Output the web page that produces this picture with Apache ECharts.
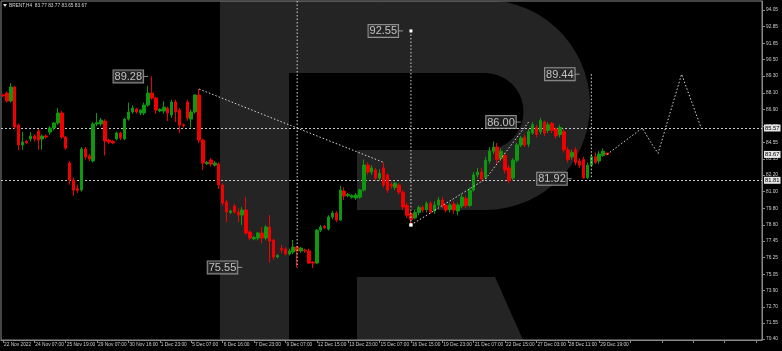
<!DOCTYPE html>
<html><head><meta charset="utf-8">
<script src="https://cdn.jsdelivr.net/npm/echarts@6/dist/echarts.min.js"></script>
<style>html,body{margin:0;padding:0;background:#000;}#c{width:782px;height:351px;}</style>
</head><body><div id="c"></div>
<script>
const dateLabels = ['22 Nov 2022','24 Nov 07:00','25 Nov 19:00','29 Nov 07:00','30 Nov 16:00','1 Dec 23:00','5 Dec 07:00','6 Dec 16:00','7 Dec 23:00','9 Dec 07:00','12 Dec 15:00','13 Dec 23:00','15 Dec 07:00','16 Dec 15:00','19 Dec 23:00','21 Dec 07:00','22 Dec 15:00','27 Dec 03:00','28 Dec 11:00','29 Dec 19:00'];
const priceTicks = [94.05,92.85,91.65,90.50,89.30,88.10,86.90,85.70,84.55,83.35,82.20,81.00,79.80,78.60,77.45,76.25,75.05,73.90,72.70,71.55,70.40];
const titleText = 'BRENT,H4  83.77 83.77 83.65 83.67';
// [open, close, low, high]
const candles = [
[87.94,87.90,87.80,88.00],[88.08,87.51,87.40,88.20],[87.51,88.51,87.40,88.80],[88.51,85.64,85.50,88.60],[85.78,84.35,83.99,85.90],
[84.35,84.56,84.00,85.28],[84.60,84.50,84.40,84.70],[84.78,84.99,84.60,85.28],[84.99,84.78,84.60,85.10],[85.35,84.70,84.00,85.50],
[84.78,84.99,84.00,85.10],[85.00,84.92,84.80,85.10],[85.28,85.57,85.10,85.70],[85.57,85.93,85.40,86.00],[85.93,86.65,85.80,87.00],
[86.65,84.92,84.80,86.80],[84.92,84.13,84.00,85.00],[83.05,81.83,81.50,83.20],[81.83,81.11,80.70,82.00],[81.20,81.10,80.90,81.50],
[81.11,84.06,81.00,84.20],[84.06,83.48,83.30,84.20],[83.56,83.34,83.20,83.70],[83.20,85.86,83.10,86.00],[85.86,85.95,85.70,86.65],
[85.86,86.14,85.70,86.30],[86.07,84.63,83.60,86.20],[84.70,84.56,84.40,84.80],[84.60,84.50,84.40,84.70],[84.78,85.21,84.70,85.30],
[85.21,84.85,84.70,85.30],[84.78,86.21,84.70,86.30],[86.21,86.72,86.10,87.40],[86.72,87.00,86.60,87.20],[86.94,86.72,86.60,87.00],
[86.65,86.86,86.50,86.90],[86.65,87.22,86.50,87.40],[87.22,88.08,87.10,88.60],[88.08,87.72,87.60,89.28],[87.72,86.86,86.60,87.80],
[86.80,86.90,86.70,87.00],[86.79,87.07,86.60,87.50],[87.00,86.65,86.07,87.10],[86.50,87.44,86.30,87.60],[87.44,86.72,86.00,87.60],
[86.86,85.78,85.20,87.00],[85.80,85.75,85.60,85.90],[87.44,86.29,86.10,87.60],[86.21,86.72,85.60,86.90],[86.72,87.94,86.60,88.00],
[87.94,84.70,84.50,88.37],[84.70,83.05,82.55,84.80],[83.00,83.10,82.90,83.20],[83.27,82.98,82.80,83.40],[82.90,83.05,82.80,83.20],
[82.98,81.47,81.20,83.10],[81.47,80.18,80.00,81.60],[80.25,79.53,78.80,80.40],[79.50,79.60,79.40,79.70],[79.96,79.53,79.40,80.10],
[79.53,79.31,78.80,79.80],[79.31,79.67,78.60,79.90],[79.67,78.02,77.90,80.60],[78.09,77.66,77.50,78.20],[77.60,77.70,77.50,77.80],
[77.66,78.02,77.50,78.10],[78.02,77.66,77.30,78.45],[77.66,78.45,77.50,78.60],[78.45,77.44,75.90,79.31],[77.52,76.29,76.10,77.60],
[76.30,76.40,76.20,76.50],[76.90,76.80,76.58,77.16],[76.87,76.51,76.40,77.00],[76.51,76.73,76.40,76.90],[76.65,77.01,76.50,77.52],
[77.01,76.73,75.55,77.10],[76.73,76.94,76.60,77.00],[76.80,76.75,76.60,76.90],[76.73,75.86,75.80,76.90],[75.93,75.86,75.50,76.00],
[75.86,78.23,75.80,78.30],[78.23,78.45,78.10,78.60],[78.50,78.40,78.30,78.60],[78.31,79.17,78.20,79.30],[79.17,79.46,79.00,79.60],
[79.46,78.95,78.80,79.60],[78.95,81.11,78.90,81.40],[81.04,80.68,80.40,81.30],[80.70,80.80,80.60,80.90],[80.60,80.70,80.50,80.80],
[80.54,80.75,80.40,80.90],[80.60,81.11,80.50,81.20],[81.11,82.91,81.00,83.30],[82.91,82.40,82.20,83.10],[82.40,82.70,82.20,82.90],
[82.55,81.97,81.80,82.70],[81.97,82.30,81.80,82.60],[82.70,81.47,81.30,83.10],[82.19,81.11,80.90,82.30],[81.50,81.40,81.20,81.70],
[81.30,81.60,81.10,81.70],[81.47,80.96,80.80,81.60],[80.96,79.90,79.70,81.10],[80.00,79.30,79.10,80.20],[79.40,79.00,78.60,79.60],
[79.10,79.50,79.00,79.70],[79.50,79.85,79.30,80.00],[79.85,79.67,79.50,80.00],[79.70,80.15,79.50,80.30],[80.15,79.53,79.40,80.30],
[79.60,80.03,79.40,80.30],[80.03,80.39,79.90,80.60],[80.39,79.96,79.80,80.60],[80.00,79.67,79.50,80.10],[79.70,80.03,79.50,80.20],
[80.10,79.67,79.40,80.30],[79.60,80.03,79.30,80.20],[79.96,80.60,79.80,80.80],[80.50,80.00,79.80,80.70],[80.00,81.10,79.90,81.30],
[81.10,82.20,81.00,82.40],[82.20,82.40,82.00,82.70],[82.40,81.90,81.70,82.70],[82.00,83.25,81.90,83.50],[83.20,83.90,83.00,84.20],
[83.90,84.20,83.70,84.60],[84.20,83.30,83.00,84.50],[83.40,83.90,83.20,84.10],[83.60,82.55,82.30,83.80],[82.70,81.80,81.60,82.90],
[81.97,83.25,81.80,83.40],[83.25,84.35,83.10,84.50],[84.35,84.85,84.20,85.00],[84.90,84.35,84.20,85.10],[84.40,85.30,84.20,85.50],
[85.20,85.80,85.10,86.00],[85.60,85.10,84.90,85.80],[85.30,86.10,85.10,86.30],[86.00,85.20,85.00,86.10],[85.40,85.80,85.20,86.00],
[85.90,85.40,85.20,86.00],[85.50,85.00,84.80,85.60],[85.10,85.60,84.90,85.80],[85.30,84.00,83.80,85.50],[84.00,83.30,83.10,84.20],
[83.50,83.80,83.30,84.00],[84.00,83.10,82.90,84.20],[83.20,82.90,82.70,83.40],[83.30,82.00,81.92,83.50],[82.00,82.90,81.90,83.10],
[82.90,83.50,82.80,83.70],[83.50,83.10,83.00,83.80],[83.20,83.70,83.00,83.90],[83.60,83.90,83.50,84.10],[83.77,83.67,83.65,83.77]
];
const slotCount = 194;
const levelLines = [85.57, 81.81];
const lastPrice = 83.67;
// analysis lines: [barIndex, price]
const trendLines = [
  [[50, 88.37], [97, 83.10]],
  [[75, 94.70], [75, 75.55]],
  [[104, 92.55], [104, 78.60]],
  [[104, 78.60], [123, 81.90], [134, 86.00]],
  [[150, 89.44], [150, 81.92]]
];
const forecastPath = [[154, 83.67], [163, 85.57], [165, 84.60], [167, 83.75], [173, 89.44], [178, 85.57]];
const priceNotes = [[37.2, 89.28, '89.28'], [101.8, 92.55, '92.55'], [60.6, 75.55, '75.55'], [132.4, 86.00, '86.00'], [147.2, 89.44, '89.44'], [144.6, 81.92, '81.92']];

const chart = echarts.init(document.getElementById('c'));
const cats = Array.from({length: slotCount}, (_, i) => String(i));
const axisGray = '#8a8a8a', txt = '#cccccc', fs = 4.8;
const lineStyleDot = {color: '#d8d8d8', width: 1, type: [1.5, 2]};

function arcPts(cx, cy, r, a0, a1, n) {
  const p = [];
  for (let k = 0; k <= n; k++) { const a = (a0 + (a1 - a0) * k / n) * Math.PI / 180; p.push([cx + r * Math.cos(a), cy + r * Math.sin(a)]); }
  return p;
}
const wm = '#242424';
const bowl = [[289, 0], [485, 0]].concat(arcPts(485, 105, 105, -90, 90, 30)).concat([[357, 210], [357, 150], [485, 150]]).concat(arcPts(485, 111.5, 38.5, 90, -90, 20)).concat([[289, 73]]);

const markLabel = {position: 'end', distance: 2, formatter: p => p.value.toFixed(2), backgroundColor: '#e6e6e6', color: '#000', fontSize: 5.8, fontFamily: 'Liberation Sans', padding: [1, 1, 0, 1]};
const series = [{
  type: 'candlestick', data: candles, barWidth: 3, z: 5,
  itemStyle: {color: '#0e980e', color0: '#f00000', borderColor: '#0e980e', borderColor0: '#f00000', borderWidth: 1},
  markLine: {
    symbol: 'none', silent: true, animation: false,
    data: levelLines.map(v => ({yAxis: v})).concat([{yAxis: lastPrice, lineStyle: {color: 'rgba(0,0,0,0)', width: 0}, label: markLabel}]),
    lineStyle: {color: '#c8c8c8', width: 1, type: [2, 2]},
    label: markLabel
  }
}];
trendLines.forEach(d => series.push({type: 'line', data: d, symbol: 'rect', symbolSize: 3, itemStyle: {color: '#fff'}, lineStyle: lineStyleDot, z: 6, animation: false}));
series.push({type: 'line', data: forecastPath, symbol: 'rect', symbolSize: 3, itemStyle: {color: '#fff'}, lineStyle: lineStyleDot, z: 6, animation: false});
series.push({
  type: 'scatter', data: priceNotes, symbolSize: 0, z: 7, animation: false,
  label: {show: true, position: 'left', distance: 0, formatter: p => '{b|' + p.data[2] + '}{t|}',
    rich: {b: {color: '#e8e8e8', fontSize: 11, fontFamily: 'Liberation Sans', backgroundColor: '#262626', borderColor: '#b0b0b0', borderWidth: 1, padding: [1, 1, 0, 1]},
           t: {width: 5, height: 1, backgroundColor: '#b0b0b0'}}}
});

chart.setOption({
  backgroundColor: '#000', animation: false,
  grid: {left: 1, right: 20, top: 1, bottom: 11, show: true, borderColor: axisGray, borderWidth: 1, backgroundColor: 'transparent'},
  xAxis: {type: 'category', data: cats, boundaryGap: true,
    axisLine: {lineStyle: {color: axisGray}},
    axisTick: {show: true, alignWithLabel: true, interval: i => i % 8 === 0, length: 3, lineStyle: {color: axisGray}},
    axisLabel: {interval: i => i % 8 === 0 && i / 8 < dateLabels.length, formatter: (v, i) => dateLabels[i / 8] || '', align: 'left', padding: [0, 0, 0, 1], margin: 2, color: txt, fontSize: fs, fontFamily: 'Liberation Sans', hideOverlap: false, showMaxLabel: true},
    splitLine: {show: false}},
  yAxis: {type: 'value', position: 'right', min: 70.33, max: 94.70, scale: true,
    axisLine: {show: true, lineStyle: {color: axisGray}},
    axisTick: {show: true, customValues: priceTicks, length: 3, lineStyle: {color: axisGray}},
    axisLabel: {customValues: priceTicks, formatter: v => v.toFixed(2), color: txt, fontSize: fs, fontFamily: 'Liberation Sans', margin: 4},
    splitLine: {show: false}},
  graphic: [
    {type: 'rect', shape: {x: 220, y: 1, width: 69, height: 339}, style: {fill: wm}, z: -10, silent: true},
    {type: 'polygon', shape: {points: bowl.map(p => [p[0], Math.max(1, p[1])])}, style: {fill: wm}, z: -10, silent: true},
    {type: 'polygon', shape: {points: [[357, 277], [495, 277], [523, 340], [357, 340]]}, style: {fill: wm}, z: -10, silent: true},
    {type: 'polygon', shape: {points: [[3, 4], [7, 4], [5, 7]]}, style: {fill: '#ddd'}, z: 10},
    {type: 'text', left: 9, top: 3, style: {text: titleText, fill: '#d8d8d8', fontSize: fs, fontFamily: 'Liberation Sans'}, z: 10}
  ],
  series: series
});
</script></body></html>
